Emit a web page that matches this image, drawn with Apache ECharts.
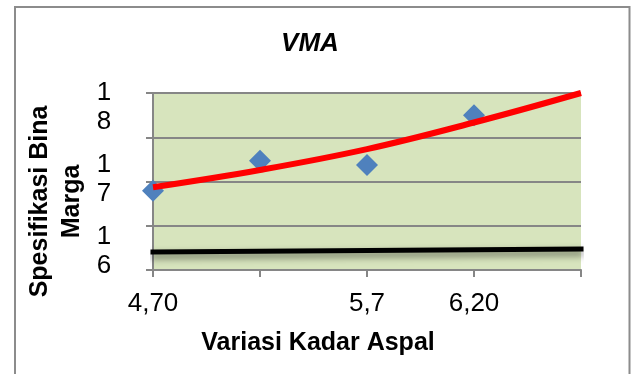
<!DOCTYPE html>
<html>
<head>
<meta charset="utf-8">
<script src="https://cdn.jsdelivr.net/npm/echarts@6/dist/echarts.min.js"></script>
<style>
  html, body { margin: 0; padding: 0; background: #ffffff; }
  #chart { width: 631px; height: 374px; }
</style>
</head>
<body>
<div id="chart"></div>
<script>
// Asphalt content variations (category axis, decimal comma as printed)
const xCategories = ['4,70', '', '5,7', '6,20', ''];
// Measured VMA values per asphalt content
const vmaValues = [16.84, 17.26, 17.20, 17.89];
// Trend curve through the VMA values, carried one step forward
const trendValues = [16.89, 17.13, 17.42, 17.79, 18.20];
// Bina Marga specification limit line (start and end)
const specValues = [15.99, null, null, null, 16.03];
// Y tick labels
const yTickValues = [16, 17, 18];
const yRange = [15.74, 18.2];

const FONT = '"Liberation Sans", Arial, sans-serif';

const chart = echarts.init(document.getElementById('chart'), null, { renderer: 'canvas' });

chart.setOption({
  animation: false,
  backgroundColor: '#ffffff',
  title: {
    text: 'VMA',
    left: 305,
    top: 26,
    textAlign: 'center',
    textStyle: { fontFamily: FONT, fontSize: 26, fontWeight: 'bold', fontStyle: 'italic', color: '#000' }
  },
  graphic: [
    {
      type: 'rect',
      shape: { x: 15, y: 7, width: 614.5, height: 420 },
      style: { fill: null, stroke: '#8c8c8c', lineWidth: 2 },
      silent: true
    },
    {
      type: 'text',
      x: 56, y: 201.5,
      rotation: Math.PI / 2,
      style: {
        text: 'Spesifikasi Bina\nMarga',
        fontFamily: FONT, fontSize: 25, fontWeight: 'bold',
        lineHeight: 32, fill: '#000',
        align: 'center', verticalAlign: 'middle'
      }
    },
    {
      type: 'text',
      x: 318, y: 343,
      style: {
        text: 'Variasi Kadar Aspal',
        fontFamily: FONT, fontSize: 25, fontWeight: 'bold', fill: '#000',
        align: 'center', verticalAlign: 'middle'
      }
    }
  ],
  grid: {
    left: 153, right: 50, top: 93, bottom: 104,
    show: true, backgroundColor: '#d7e4bd', borderWidth: 0
  },
  xAxis: {
    type: 'category',
    data: xCategories,
    boundaryGap: false,
    axisLine: { show: true, lineStyle: { color: '#868686', width: 2 } },
    axisTick: { show: true, length: 7, alignWithLabel: true, lineStyle: { color: '#868686', width: 2 } },
    axisLabel: {
      show: true, interval: 0, margin: 21,
      fontFamily: FONT, fontSize: 26, color: '#000'
    },
    splitLine: { show: false }
  },
  yAxis: [
    {
      type: 'value',
      min: yRange[0], max: yRange[1],
      axisLine: { show: true, lineStyle: { color: '#868686', width: 2 } },
      axisTick: { show: false },
      splitLine: { show: false },
      axisLabel: {
        show: true,
        customValues: yTickValues,
        margin: 49,
        align: 'center',
        verticalAlign: 'middle',
        lineHeight: 29,
        fontFamily: FONT, fontSize: 26, color: '#000',
        formatter: v => String(Math.round(v)).split('').join('\n')
      }
    },
    {
      // gridline axis: five evenly spaced rules across the plot
      type: 'value',
      position: 'left',
      min: 0, max: 4, interval: 1,
      axisLine: { show: false },
      axisTick: { show: true, length: 7, lineStyle: { color: '#868686', width: 2 } },
      axisLabel: { show: false },
      splitLine: { show: true, lineStyle: { color: '#868686', width: 2 } }
    }
  ],
  series: [
    {
      name: 'Spesifikasi',
      type: 'line',
      yAxisIndex: 0,
      data: specValues,
      connectNulls: true,
      symbol: 'none',
      clip: false,
      z: 3,
      lineStyle: {
        color: '#000', width: 5, cap: 'square',
        shadowColor: 'rgba(0,0,0,0.5)', shadowBlur: 7, shadowOffsetY: 4
      }
    },
    {
      name: 'VMA',
      type: 'scatter',
      yAxisIndex: 0,
      data: vmaValues,
      symbol: 'diamond',
      symbolSize: 22,
      z: 4,
      itemStyle: { color: '#4f81bd', opacity: 1 }
    },
    {
      name: 'Trend',
      type: 'line',
      yAxisIndex: 0,
      data: trendValues,
      smooth: 0.4,
      symbol: 'none',
      z: 5,
      lineStyle: { color: '#ff0000', width: 6 }
    }
  ]
});
</script>
</body>
</html>
